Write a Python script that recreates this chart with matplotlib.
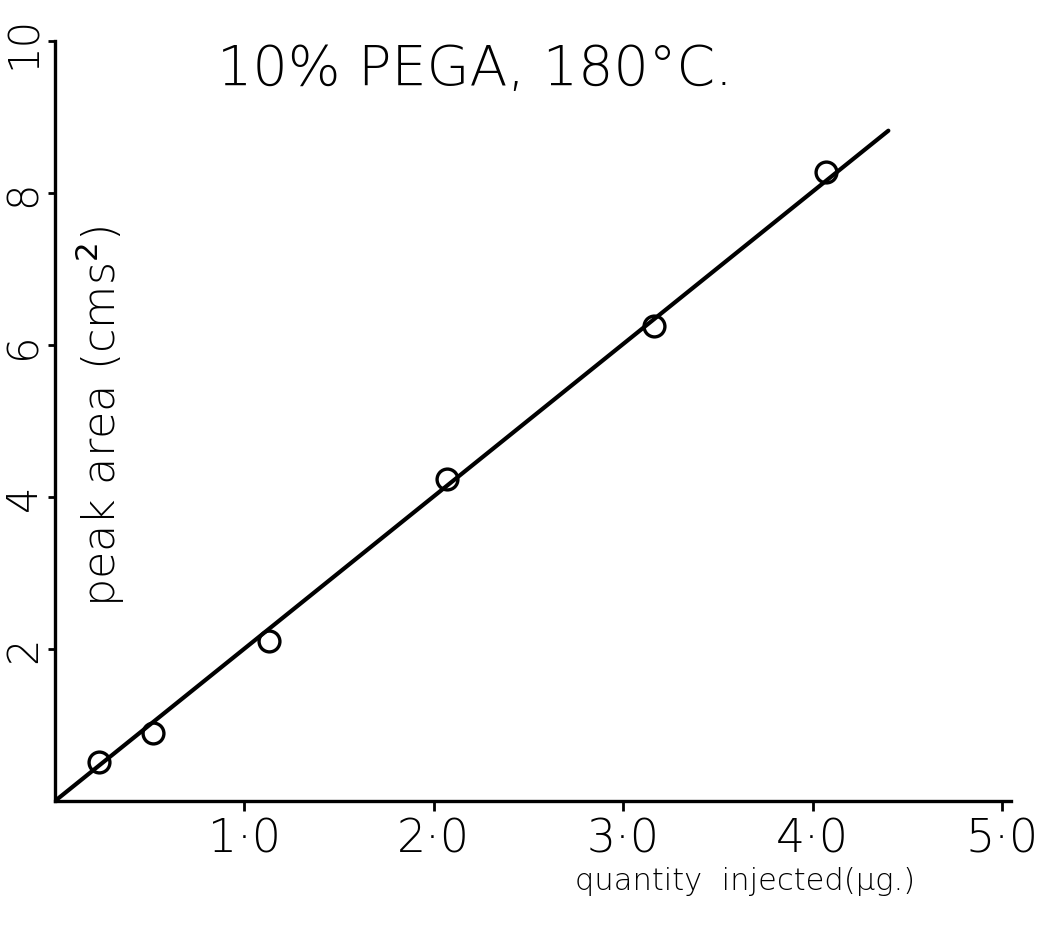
import matplotlib
matplotlib.use("Agg")
import matplotlib.pyplot as plt
import numpy as np

# data
quantity = [0.23, 0.52, 1.13, 2.07, 3.16, 4.07]
peak_area = [0.51, 0.89, 2.10, 4.24, 6.25, 8.27]
fit_x = [0.0, 4.40]
fit_y = [0.0, 8.82]
xticks = [1.0, 2.0, 3.0, 4.0, 5.0]
xticklabels = ["1·0", "2·0", "3·0", "4·0", "5·0"]
yticks = [2, 4, 6, 8, 10]
yticklabels = ["2", "4", "6", "8", "10"]

plt.rcParams['font.family'] = ['DejaVu Sans']
W, H = 1042, 928
fig = plt.figure(figsize=(W / 100, H / 100), dpi=100)
x0, y0 = 55, 802
ux, uy = 189.4, 76.0
xmax, ymax = 5.05, 10.0
ax = fig.add_axes([x0 / W, (H - y0) / H, xmax * ux / W, ymax * uy / H])
ax.set_xlim(0, xmax)
ax.set_ylim(0, ymax)

ax.plot(fit_x, fit_y, color='black', lw=3.0, solid_capstyle='round', zorder=2)
ax.plot(quantity, peak_area, linestyle='none', marker='o', ms=15, mfc='none',
        mec='black', mew=2.4, zorder=3)

for s in ['top', 'right']:
    ax.spines[s].set_visible(False)
for s in ['left', 'bottom']:
    ax.spines[s].set_linewidth(2.4)
    ax.spines[s].set_color('black')

ax.set_xticks(xticks)
ax.set_xticklabels(xticklabels, fontsize=33, fontweight='light')
ax.set_yticks(yticks)
ax.set_yticklabels(yticklabels, fontsize=30, fontweight='light', rotation=90,
                   va='center')
ax.tick_params(axis='x', direction='out', length=7, width=2, pad=4)
ax.tick_params(axis='y', direction='out', length=5, width=2, pad=3)

fig.text(475 / W, 1 - 70 / H, "10% PEGA, 180°C.", fontsize=40,
         fontweight='light', ha='center', va='center')
fig.text(745 / W, 1 - 882 / H, "quantity  injected(μg.)", fontsize=22,
         fontweight='light', ha='center', va='center')
fig.text(100 / W, 1 - 416 / H, "peak area (cms$^2$)", fontsize=32,
         fontweight='light', ha='center', va='center', rotation=90)

fig.savefig("out.png", dpi=100, facecolor='white')
